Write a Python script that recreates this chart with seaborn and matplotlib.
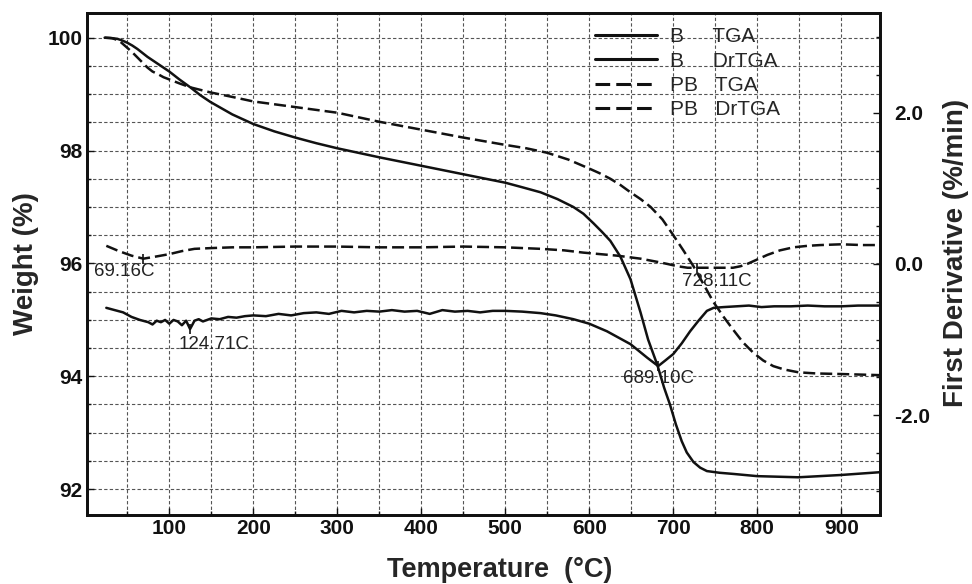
import numpy as np
import pandas as pd
import matplotlib
matplotlib.use("Agg")
import matplotlib.pyplot as plt
from matplotlib.ticker import MultipleLocator, FixedLocator
import seaborn as sns

# ---------------- data ----------------
b_tga_T = [23, 30, 38, 44, 50, 56, 62, 68, 74, 80, 87, 93, 100, 112, 125, 137, 149, 175, 200,
           225, 250, 275, 300, 350, 400, 450, 500, 520, 542, 562, 581, 593, 605, 615, 625,
           637, 649, 661, 670, 681, 689, 696, 703, 710, 716, 724, 732, 740, 755, 771, 800,
           849, 899, 946]
b_tga = [100.0, 99.995, 99.98, 99.95, 99.91, 99.86, 99.8, 99.73, 99.66, 99.6, 99.53, 99.47,
         99.4, 99.26, 99.12, 98.98, 98.86, 98.64, 98.47, 98.34, 98.23, 98.13, 98.04, 97.88,
         97.73, 97.58, 97.43, 97.35, 97.26, 97.14, 97.0, 96.88, 96.71, 96.56, 96.4, 96.12,
         95.72, 95.13, 94.65, 94.2, 93.8, 93.5, 93.15, 92.85, 92.65, 92.48, 92.38, 92.32,
         92.29, 92.27, 92.23, 92.21, 92.25, 92.3]

pb_tga_T = [23, 32, 40, 50, 56, 62, 68, 74, 80, 87, 93, 100, 112, 125, 149, 175, 200, 250,
            300, 350, 400, 450, 500, 525, 550, 575, 600, 612, 625, 637, 649, 661, 673, 687,
            700, 712, 724, 736, 748, 760, 771, 783, 795, 807, 819, 832, 849, 870, 899, 946]
pb_tga = [100.0, 99.99, 99.95, 99.82, 99.74, 99.65, 99.56, 99.47, 99.4, 99.35, 99.3, 99.26,
          99.19, 99.12, 99.03, 98.95, 98.87, 98.77, 98.67, 98.51, 98.37, 98.23, 98.1, 98.04,
          97.96, 97.84, 97.68, 97.6, 97.5, 97.39, 97.26, 97.14, 97.0, 96.78, 96.5, 96.23,
          95.95, 95.63, 95.31, 95.05, 94.83, 94.6, 94.42, 94.28, 94.18, 94.12, 94.07, 94.05,
          94.04, 94.02]

b_dr_T = [25, 35, 45, 55, 65, 75, 80, 85, 90, 95, 100, 105, 110, 115, 120, 124.71, 130, 135,
          140, 150, 160, 170, 180, 190, 200, 215, 230, 245, 260, 275, 290, 305, 320, 335, 350,
          365, 380, 395, 410, 425, 440, 455, 470, 485, 500, 520, 542, 560, 581, 600, 621, 649,
          669, 682, 690, 700, 710, 720, 730, 740, 748, 760, 775, 790, 805, 820, 840, 860, 880,
          900, 920, 946]
b_dr = [-0.58, -0.61, -0.64, -0.70, -0.74, -0.77, -0.80, -0.75, -0.77, -0.74, -0.79, -0.74,
        -0.76, -0.81, -0.75, -0.86, -0.75, -0.73, -0.76, -0.72, -0.73, -0.70, -0.71, -0.69,
        -0.68, -0.69, -0.66, -0.68, -0.65, -0.64, -0.66, -0.62, -0.64, -0.62, -0.63, -0.61,
        -0.63, -0.62, -0.66, -0.61, -0.63, -0.62, -0.64, -0.62, -0.62, -0.63, -0.65, -0.68,
        -0.73, -0.79, -0.89, -1.06, -1.24, -1.35, -1.28, -1.19, -1.05, -0.89, -0.75, -0.62,
        -0.58, -0.57, -0.56, -0.55, -0.57, -0.56, -0.56, -0.55, -0.56, -0.56, -0.55, -0.55]

pb_dr_T = [25, 40, 55, 69.16, 85, 100, 115, 130, 150, 175, 200, 250, 300, 350, 400, 450, 500,
           542, 570, 593, 613, 633, 661, 680, 693, 705, 717, 728.11, 740, 755, 771, 780, 788,
           800, 812, 827, 843, 860, 875, 900, 925, 946]
pb_dr = [0.24, 0.17, 0.11, 0.07, 0.10, 0.13, 0.17, 0.20, 0.21, 0.22, 0.22, 0.23, 0.23, 0.22,
         0.22, 0.23, 0.22, 0.20, 0.18, 0.15, 0.13, 0.11, 0.07, 0.03, 0.0, -0.03, -0.05, -0.05,
         -0.05, -0.05, -0.05, -0.03, 0.0, 0.06, 0.12, 0.18, 0.22, 0.24, 0.25, 0.26, 0.25, 0.25]

legend_labels = ["B     TGA", "B     DrTGA", "PB   TGA", "PB   DrTGA"]

# peak markers as read on the derivative curves, with their labels
peak_T = [69.16, 124.71, 682, 728.11]
peak_val = [0.07, -0.86, -1.35, -0.05]
peak_labels = ["69.16C", "124.71C", "689.10C", "728.11C"]

# ---------------- style ----------------
sns.set_theme(style="ticks")
plt.rcParams["font.family"] = ["Liberation Sans", "DejaVu Sans"]
plt.rcParams["lines.scale_dashes"] = True

fig = plt.figure(figsize=(9.72, 5.84), dpi=100)
ax = fig.add_axes([0.0895, 0.118, 0.8158, 0.860])
ax2 = ax.twinx()

LW = 1.8
DASH = (4.8, 2.0)
INK = "#111111"

df_b = pd.DataFrame({"T": b_tga_T, "w": b_tga})
df_pb = pd.DataFrame({"T": pb_tga_T, "w": pb_tga})
df_bd = pd.DataFrame({"T": b_dr_T, "d": b_dr})
df_pbd = pd.DataFrame({"T": pb_dr_T, "d": pb_dr})

sns.lineplot(data=df_b, x="T", y="w", ax=ax, color=INK, linewidth=LW)
sns.lineplot(data=df_pb, x="T", y="w", ax=ax, color=INK, linewidth=LW,
             linestyle=(0, DASH))
sns.lineplot(data=df_bd, x="T", y="d", ax=ax2, color=INK, linewidth=LW)
sns.lineplot(data=df_pbd, x="T", y="d", ax=ax2, color=INK, linewidth=LW,
             linestyle=(0, DASH))

# peak markers and labels
offsets = [(-14, -9), (17, -11), (0, -9), (14, -10)]
for t, v, lab, off in zip(peak_T, peak_val, peak_labels, offsets):
    ax2.plot([t], [v], marker="|", markersize=7, color=INK, mew=1.2)
    ax2.annotate(lab, (t, v), xytext=off, textcoords="offset points",
                 ha="center", va="center", fontsize=13.5, color="#222222")

# axes limits and ticks
ax.set_xlim(2, 946)
ax.set_ylim(91.54, 100.44)
ax2.set_ylim(-3.32, 3.32)

ax.xaxis.set_major_locator(FixedLocator([100, 200, 300, 400, 500, 600, 700, 800, 900]))
ax.xaxis.set_minor_locator(MultipleLocator(50))
ax.yaxis.set_major_locator(FixedLocator([92, 94, 96, 98, 100]))
ax.yaxis.set_minor_locator(MultipleLocator(0.5))
ax2.yaxis.set_major_locator(FixedLocator([-2.0, 0.0, 2.0]))
ax2.yaxis.set_minor_locator(MultipleLocator(0.5))
ax2.set_yticklabels(["-2.0", "0.0", "2.0"])

ax.grid(True, which="both", linestyle=(0, (3, 2)), linewidth=0.8, color="#555555")
ax2.grid(False)

for a in (ax, ax2):
    for s in a.spines.values():
        s.set_linewidth(2.0)
        s.set_color(INK)
    a.tick_params(which="both", direction="in", colors=INK, width=1.0)
    a.tick_params(which="major", length=5, labelsize=15, pad=3)
    a.tick_params(which="minor", length=3)
ax2.tick_params(which="major", pad=10)
for lab in ax.get_xticklabels() + ax.get_yticklabels() + ax2.get_yticklabels():
    lab.set_fontweight("bold")

ax.set_xlabel("Temperature  (°C)", fontsize=19.5, fontweight="bold", labelpad=14)
ax.xaxis.set_label_coords(0.521, -0.084)
ax.set_ylabel("Weight (%)", fontsize=20, fontweight="bold", labelpad=6)
ax2.set_ylabel("First Derivative (%/min)", fontsize=20, fontweight="bold", labelpad=10)
ax2.yaxis.set_label_coords(1.0795, 0.522)

handles = [ax.lines[0], ax2.lines[0], ax.lines[1], ax2.lines[1]]
leg = ax.legend(handles, legend_labels, loc="upper left", bbox_to_anchor=(0.622, 1.0),
                frameon=False, fontsize=15, handlelength=3.0, handletextpad=0.6,
                borderpad=0.2, labelspacing=0.25)
for line in leg.get_lines():
    line.set_linewidth(2.2)
ax2.set_zorder(ax.get_zorder() + 1)
ax2.patch.set_visible(False)

fig.savefig("out.png", dpi=100)
